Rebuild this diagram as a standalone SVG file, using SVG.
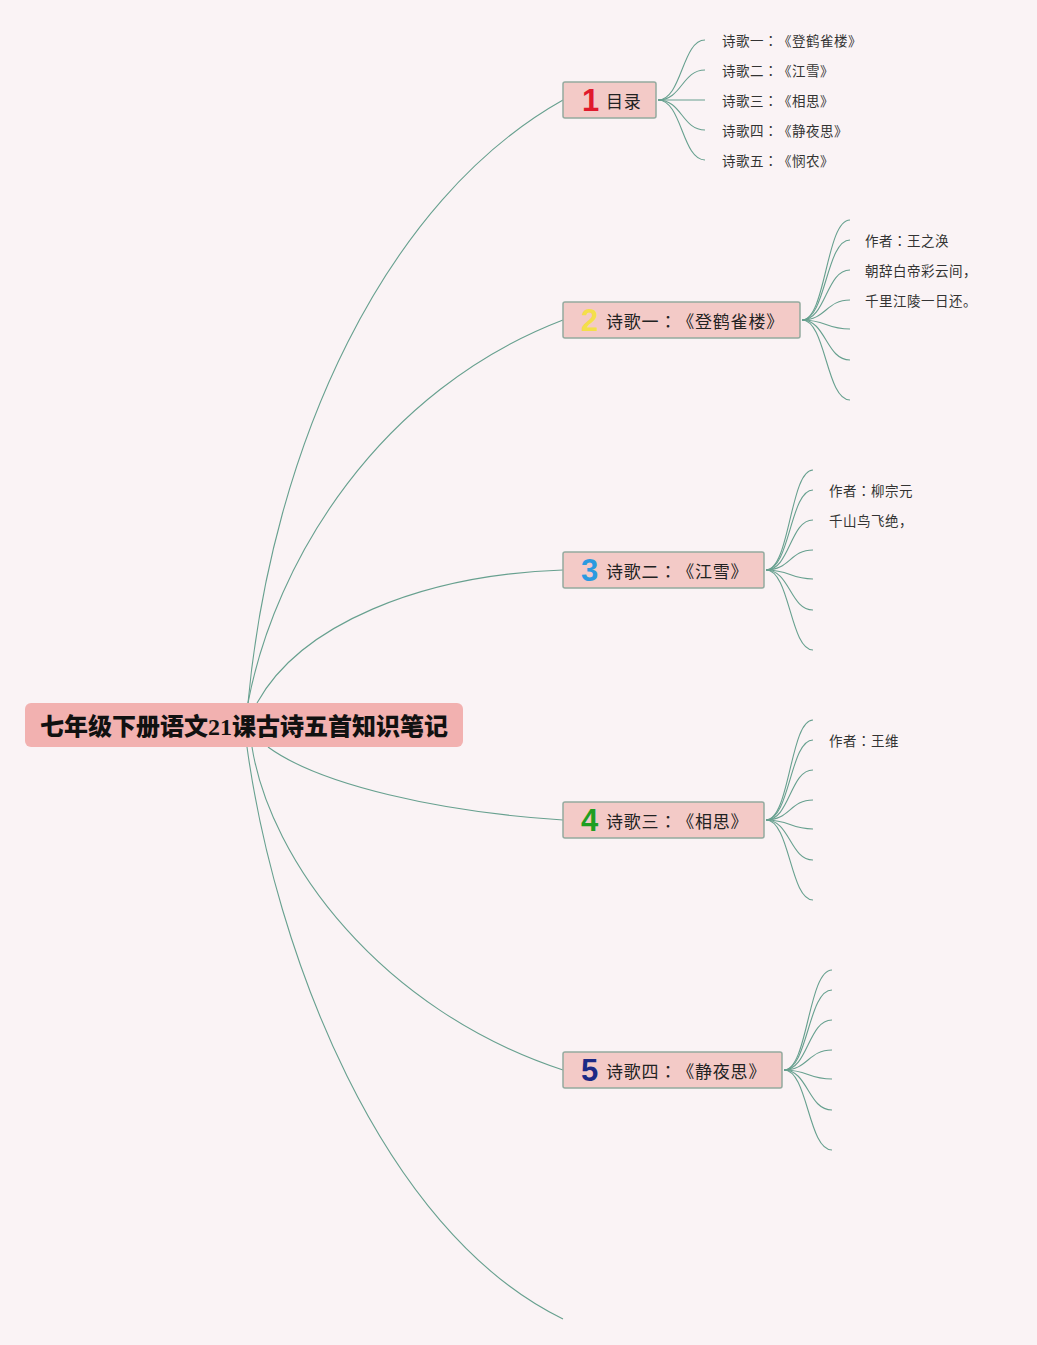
<svg xmlns="http://www.w3.org/2000/svg" width="1037" height="1345" viewBox="0 0 1037 1345">
<style>
text{text-spacing-trim:space-all}
.bg{fill:#faf3f5}
.ln{fill:none;stroke:#67a08f;stroke-width:1.1}
.box{fill:#f3cac7;stroke:#94aa9f;stroke-width:1.5}
.root{fill:#f2b1b0}
.rt{font-family:"Noto Sans CJK SC","Liberation Sans",sans-serif;font-weight:900;font-size:24px;fill:#111}
.nt{font-family:"Noto Sans CJK SC","Liberation Sans",sans-serif;font-size:17px;fill:#222;letter-spacing:0.8px}
.num{font-family:"Liberation Sans","DejaVu Sans",sans-serif;font-weight:700;font-size:31px}
.ct{font-family:"Noto Sans CJK SC","Liberation Sans",sans-serif;font-size:13.5px;fill:#333;letter-spacing:0.5px}
.tc{font-family:"Noto Sans CJK TC","Noto Sans CJK SC",sans-serif}
</style>
<rect class="bg" x="0" y="0" width="1037" height="1345"/>
<g id="connectors">
<path class="ln" d="M248,703 C272,445 385,200 563,100"/>
<path class="ln" d="M248,703 C275,560 380,390 563,320"/>
<path class="ln" d="M257,703 C300,625 420,575 563,570"/>
<path class="ln" d="M268,747 C320,785 440,812 563,820"/>
<path class="ln" d="M252,747 C270,860 380,1010 563,1070"/>
<path class="ln" d="M247,747 C275,950 380,1230 563,1319"/>
<path class="ln" d="M658,100 C682,100 682,40 705,40"/>
<path class="ln" d="M658,100 C682,100 682,70 705,70"/>
<path class="ln" d="M658,100 L705,100"/>
<path class="ln" d="M658,100 C682,100 682,130 705,130"/>
<path class="ln" d="M658,100 C682,100 682,160 705,160"/>
<path class="ln" d="M802,320 C826,320 826,220 850,220"/>
<path class="ln" d="M802,320 C826,320 826,240 850,240"/>
<path class="ln" d="M802,320 C826,320 826,270 850,270"/>
<path class="ln" d="M802,320 C826,320 826,300 850,300"/>
<path class="ln" d="M802,320 C826,320 826,329 850,329"/>
<path class="ln" d="M802,320 C826,320 826,360 850,360"/>
<path class="ln" d="M802,320 C826,320 826,400 850,400"/>
<path class="ln" d="M766,570 C790,570 790,470 813,470"/>
<path class="ln" d="M766,570 C790,570 790,490 813,490"/>
<path class="ln" d="M766,570 C790,570 790,520 813,520"/>
<path class="ln" d="M766,570 C790,570 790,550 813,550"/>
<path class="ln" d="M766,570 C790,570 790,579 813,579"/>
<path class="ln" d="M766,570 C790,570 790,610 813,610"/>
<path class="ln" d="M766,570 C790,570 790,650 813,650"/>
<path class="ln" d="M766,820 C790,820 790,720 813,720"/>
<path class="ln" d="M766,820 C790,820 790,740 813,740"/>
<path class="ln" d="M766,820 C790,820 790,770 813,770"/>
<path class="ln" d="M766,820 C790,820 790,800 813,800"/>
<path class="ln" d="M766,820 C790,820 790,829 813,829"/>
<path class="ln" d="M766,820 C790,820 790,860 813,860"/>
<path class="ln" d="M766,820 C790,820 790,900 813,900"/>
<path class="ln" d="M784,1070 C808,1070 808,970 832,970"/>
<path class="ln" d="M784,1070 C808,1070 808,990 832,990"/>
<path class="ln" d="M784,1070 C808,1070 808,1020 832,1020"/>
<path class="ln" d="M784,1070 C808,1070 808,1050 832,1050"/>
<path class="ln" d="M784,1070 C808,1070 808,1079 832,1079"/>
<path class="ln" d="M784,1070 C808,1070 808,1110 832,1110"/>
<path class="ln" d="M784,1070 C808,1070 808,1150 832,1150"/>
</g>
<g id="root">
<rect class="root" x="25" y="703" width="438" height="44" rx="6"/>
<text class="rt" x="244" y="735" text-anchor="middle">七年级下册语文<tspan font-family="Liberation Serif,serif">21</tspan>课古诗五首知识笔记</text>
</g>
<g id="n1">
<rect class="box" x="563" y="82" width="93" height="36" rx="2"/>
<text class="num" x="582" y="111" fill="#e01a2c">1</text>
<text class="nt" x="606" y="108">目录</text>
</g>
<g id="n1-children">
<text class="ct" x="722" y="46">诗歌一<tspan class="tc">：</tspan>《登鹤雀楼》</text>
<text class="ct" x="722" y="76">诗歌二<tspan class="tc">：</tspan>《江雪》</text>
<text class="ct" x="722" y="106">诗歌三<tspan class="tc">：</tspan>《相思》</text>
<text class="ct" x="722" y="136">诗歌四<tspan class="tc">：</tspan>《静夜思》</text>
<text class="ct" x="722" y="166">诗歌五<tspan class="tc">：</tspan>《悯农》</text>
</g>
<g id="n2">
<rect class="box" x="563" y="302" width="237" height="36" rx="2"/>
<text class="num" x="581" y="331" fill="#f4df4a">2</text>
<text class="nt" x="606" y="328">诗歌一<tspan class="tc">：</tspan>《登鹤雀楼》</text>
</g>
<g id="n2-children">
<text class="ct" x="865" y="246">作者<tspan class="tc">：</tspan>王之涣</text>
<text class="ct" x="865" y="276">朝辞白帝彩云间，</text>
<text class="ct" x="865" y="306">千里江陵一日还。</text>
</g>
<g id="n3">
<rect class="box" x="563" y="552" width="201" height="36" rx="2"/>
<text class="num" x="581" y="581" fill="#2b9ae0">3</text>
<text class="nt" x="606" y="578">诗歌二<tspan class="tc">：</tspan>《江雪》</text>
</g>
<g id="n3-children">
<text class="ct" x="829" y="496">作者<tspan class="tc">：</tspan>柳宗元</text>
<text class="ct" x="829" y="526">千山鸟飞绝，</text>
</g>
<g id="n4">
<rect class="box" x="563" y="802" width="201" height="36" rx="2"/>
<text class="num" x="581" y="831" fill="#1f9e22">4</text>
<text class="nt" x="606" y="828">诗歌三<tspan class="tc">：</tspan>《相思》</text>
</g>
<g id="n4-children">
<text class="ct" x="829" y="746">作者<tspan class="tc">：</tspan>王维</text>
</g>
<g id="n5">
<rect class="box" x="563" y="1052" width="219" height="36" rx="2"/>
<text class="num" x="581" y="1081" fill="#1c2a85">5</text>
<text class="nt" x="606" y="1078">诗歌四<tspan class="tc">：</tspan>《静夜思》</text>
</g>
</svg>
